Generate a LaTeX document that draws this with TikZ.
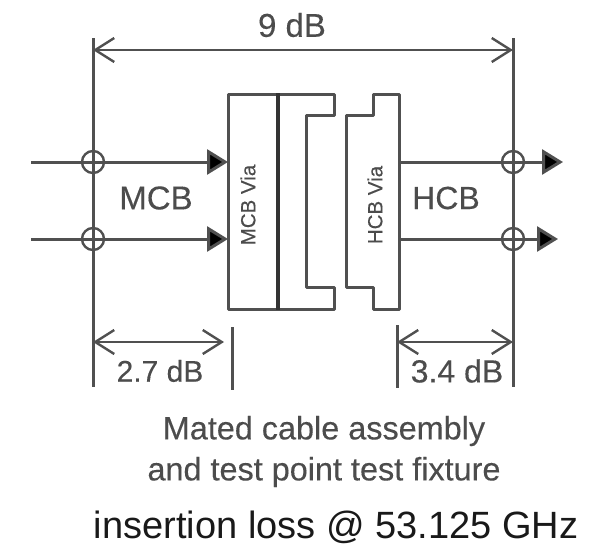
\documentclass[tikz,border=0pt]{standalone}
\usepackage{fontspec}
\setmainfont{Liberation Sans}
\newfontfamily\labfont[FakeBold=0.25]{Liberation Sans}
\usetikzlibrary{arrows.meta}
\definecolor{ink}{HTML}{505050}
\definecolor{txt}{HTML}{4C4C4C}
\tikzset{
 px/.style={x=1pt,y=-1pt},
 wire/.style={draw=ink,line width=3pt},
 heavy/.style={draw=black!80,line width=3.6pt},
 sig/.style={draw=ink,line width=3pt,-{Triangle[length=21pt,width=25pt,fill=black]}},
 dim/.style={draw=ink,line width=2.4pt,{Straight Barb[length=19pt,width=24pt,line width=2.4pt]}-{Straight Barb[length=19pt,width=24pt,line width=2.4pt]}},
 probe/.style={circle,draw=ink,line width=2.4pt,minimum size=22pt,inner sep=0pt,fill=none},
 lab/.style={text=txt,inner sep=0pt},
}
\begin{document}
\begin{tikzpicture}[px]
\useasboundingbox (0,0) rectangle (592,546);
\fill[white] (0,0) rectangle (592,546);
% connector bodies
\draw[wire,line join=round] (278,94) -- (334,94) -- (334,115) -- (306,115) -- (306,287) -- (334,287) -- (334,309) -- (278,309);
\draw[wire,line join=round] (399,94) -- (373,94) -- (373,115) -- (346,115) -- (346,287) -- (373,287) -- (373,309) -- (399,309) -- cycle;
\draw[wire,line join=round] (278,94) -- (228,94) -- (228,309) -- (278,309);
\draw[heavy] (278,93) -- (278,310);
% named anchors
\coordinate (dtl) at (93,38); \coordinate (dbl) at (93,387);
\coordinate (dtr) at (513,38); \coordinate (dbr) at (513,387);
\coordinate (m1) at (228,162); \coordinate (m2) at (228,239);
\coordinate (in1) at (31,162); \coordinate (in2) at (31,239);
\coordinate (h1) at (399,162); \coordinate (h2) at (399,239);
\coordinate (o1) at (563,162); \coordinate (o2) at (558,239);
\coordinate (barL1) at (232,327); \coordinate (barL2) at (232,390);
\coordinate (barR1) at (397,325); \coordinate (barR2) at (397,388);
\coordinate (a9l) at (93,50); \coordinate (a9r) at (513,50);
\coordinate (a27l) at (93,342); \coordinate (a27r) at (224,342);
\coordinate (a34l) at (397,342); \coordinate (a34r) at (513,342);
% reference planes
\draw[wire] (dtl) -- (dbl);
\draw[wire] (dtr) -- (dbr);
\draw[wire] (barL1) -- (barL2);
\draw[wire] (barR1) -- (barR2);
% signals
\draw[sig] (in1) -- (m1);
\draw[sig] (in2) -- (m2);
\draw[sig] (h1) -- (o1);
\draw[sig] (h2) -- (o2);
% probes
\node[probe] (p1) at (93,162) {};
\node[probe] (p2) at (93,239) {};
\node[probe] (p3) at (513,162) {};
\node[probe] (p4) at (513,239) {};
% dimensions
\draw[dim] (a9l) -- (a9r);
\draw[dim] (a27l) -- (a27r);
\draw[dim] (a34l) -- (a34r);
% labels
\node[lab,font=\labfont\fontsize{33}{33}\selectfont] (t9) at (292,25) {9 dB};
\node[lab,font=\labfont\fontsize{33}{33}\selectfont] (tm) at (156,198) {MCB};
\node[lab,font=\labfont\fontsize{32}{32}\selectfont] (th) at (446,198) {HCB};
\node[lab,rotate=90,font=\labfont\fontsize{20.5}{20.5}\selectfont] (vm) at (248,205) {MCB Via};
\node[lab,rotate=90,font=\labfont\fontsize{20.5}{20.5}\selectfont] (vh) at (375,205) {HCB Via};
\node[lab,font=\labfont\fontsize{30}{30}\selectfont] (t27) at (160,371) {2.7 dB};
\node[lab,font=\labfont\fontsize{32}{32}\selectfont] (t34) at (457,371) {3.4 dB};
\node[lab,font=\labfont\fontsize{32.4}{32.4}\selectfont] (c1) at (324,431) {Mated cable assembly};
\node[lab,font=\labfont\fontsize{32.4}{32.4}\selectfont] (c2) at (324,472) {and test point test fixture};
\node[inner sep=0pt,text=black!90,font=\fontsize{38}{38}\selectfont] (il) at (336,527) {insertion loss @ 53.125 GHz};
\end{tikzpicture}
\end{document}
